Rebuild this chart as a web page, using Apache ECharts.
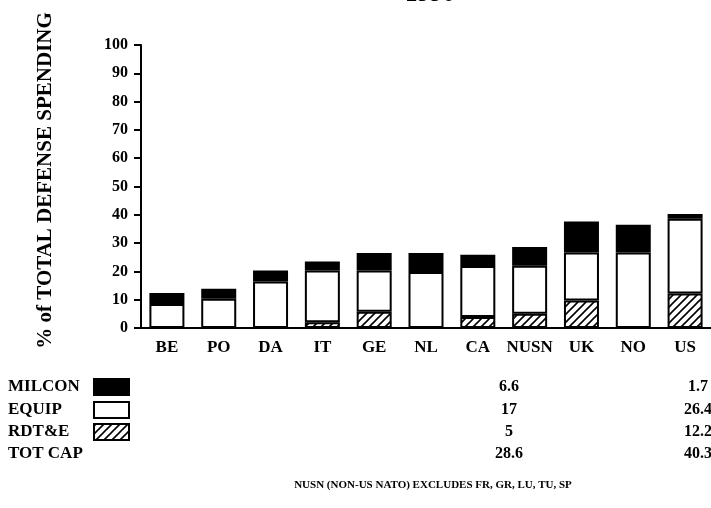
<!DOCTYPE html>
<html>
<head>
	<meta charset="UTF-8">
	<title>1990</title>
	<script type="text/javascript" src="https://cdn.jsdelivr.net/npm/echarts@6/dist/echarts.min.js"></script>
	<style>
		html, body {margin: 0; padding: 0; background: #fff;}
		#chart {width: 711px; height: 508px;}
	</style>
</head>
<body>
<div id="chart"></div>
<script>
// data
var countries = ['BE', 'PO', 'DA', 'IT', 'GE', 'NL', 'CA', 'NUSN', 'UK', 'NO', 'US'];
var rdte   = [0,   0,    0,    2.0,  5.7,  0,    3.9,  5,    9.7,  0,    12.2];
var equip  = [8.5, 10.3, 16.4, 18.3, 14.6, 19.8, 18.0, 17,   17.0, 26.7, 26.4];
var milcon = [3.9, 3.6,  3.9,  3.2,  6.2,  6.7,  4.0,  6.6,  10.9, 9.8,  1.7];
var yTicks = [0, 10, 20, 30, 40, 50, 60, 70, 80, 90, 100];
var tableCols = ['NUSN', 'US'];
var rowNames = ['MILCON', 'EQUIP', 'RDT&E', 'TOT CAP'];

var serif = '"Liberation Serif", "Times New Roman", serif';

//斜线填充
function hatchPattern() {
	var s = 8;
	var c = document.createElement('canvas');
	c.width = s;
	c.height = s;
	var ctx = c.getContext('2d');
	ctx.fillStyle = '#fff';
	ctx.fillRect(0, 0, s, s);
	ctx.strokeStyle = '#000';
	ctx.lineWidth = 1.6;
	ctx.beginPath();
	ctx.moveTo(-1, s + 1); ctx.lineTo(s + 1, -1);
	ctx.moveTo(-3, 3); ctx.lineTo(3, -3);
	ctx.moveTo(s - 3, s + 3); ctx.lineTo(s + 3, s - 3);
	ctx.stroke();
	return c;
}
var hatch = {image: hatchPattern(), repeat: 'repeat'};

// 0 值不画
function noZero(arr) {
	return arr.map(function (v) { return v === 0 ? null : v; });
}

var chart = echarts.init(document.getElementById('chart'));

// table under the chart
var rowY = [387, 410, 432, 454];
var colX = [509, 698];
var swatchFill = ['#000', '#fff', hatch];
var graphics = [{
	type: 'text', x: 430, y: -18,
	style: {text: '1990', font: 'bold 25px ' + serif, fill: '#000', align: 'center'}
}];
rowNames.forEach(function (name, r) {
	graphics.push({
		type: 'text', x: 8, y: rowY[r],
		style: {text: name, font: 'bold 17px ' + serif, fill: '#000', verticalAlign: 'middle'}
	});
	if (r < 3) {
		graphics.push({
			type: 'rect', shape: {x: 94, y: rowY[r] - 8, width: 35, height: 16},
			style: {fill: swatchFill[r], stroke: '#000', lineWidth: 2}
		});
	}
});
tableCols.forEach(function (c, j) {
	var i = countries.indexOf(c);
	var vals = [milcon[i], equip[i], rdte[i], Math.round((milcon[i] + equip[i] + rdte[i]) * 10) / 10];
	vals.forEach(function (v, r) {
		graphics.push({
			type: 'text', x: colX[j], y: rowY[r],
			style: {text: String(v), font: 'bold 16px ' + serif, fill: '#000', align: 'center', verticalAlign: 'middle'}
		});
	});
});
graphics.push({
	type: 'text', x: 433, y: 485,
	style: {text: 'NUSN (NON-US NATO) EXCLUDES FR, GR, LU, TU, SP', font: 'bold 11px ' + serif, fill: '#000', align: 'center', verticalAlign: 'middle'}
});

var option = {
	animation: false,
	backgroundColor: '#fff',
	textStyle: {fontFamily: serif, color: '#000'},
	grid: {left: 141, top: 45, width: 575, height: 283},
	xAxis: {
		type: 'category',
		data: countries,
		axisLine: {lineStyle: {color: '#000', width: 2}},
		axisTick: {alignWithLabel: true, length: 6, lineStyle: {color: '#000', width: 2}},
		axisLabel: {interval: 0, color: '#000', fontWeight: 'bold', fontSize: 17, fontFamily: serif, margin: 11}
	},
	yAxis: {
		type: 'value',
		min: 0,
		max: 100,
		interval: 10,
		name: '% of TOTAL DEFENSE SPENDING',
		nameLocation: 'middle',
		nameGap: 85,
		nameTextStyle: {color: '#000', fontWeight: 'bold', fontSize: 21, fontFamily: serif, padding: [0, 0, 0, 12]},
		axisLine: {show: true, lineStyle: {color: '#000', width: 2}},
		axisTick: {show: true, length: 7, lineStyle: {color: '#000', width: 2}},
		axisLabel: {color: '#000', fontWeight: 'bold', fontSize: 16, fontFamily: serif, margin: 13,
			formatter: function (v) { return yTicks.indexOf(v) >= 0 ? String(v) : ''; }},
		splitLine: {show: false}
	},
	series: [
		{name: 'RDT&E', type: 'bar', stack: 'cap', barWidth: 35, data: noZero(rdte),
			itemStyle: {color: hatch, borderColor: '#000', borderWidth: 2}},
		{name: 'EQUIP', type: 'bar', stack: 'cap', barWidth: 35, data: noZero(equip),
			itemStyle: {color: '#fff', borderColor: '#000', borderWidth: 2}},
		{name: 'MILCON', type: 'bar', stack: 'cap', barWidth: 35, data: noZero(milcon),
			itemStyle: {color: '#000', borderColor: '#000', borderWidth: 2}}
	],
	graphic: graphics
};
chart.setOption(option);
</script>
</body>
</html>
